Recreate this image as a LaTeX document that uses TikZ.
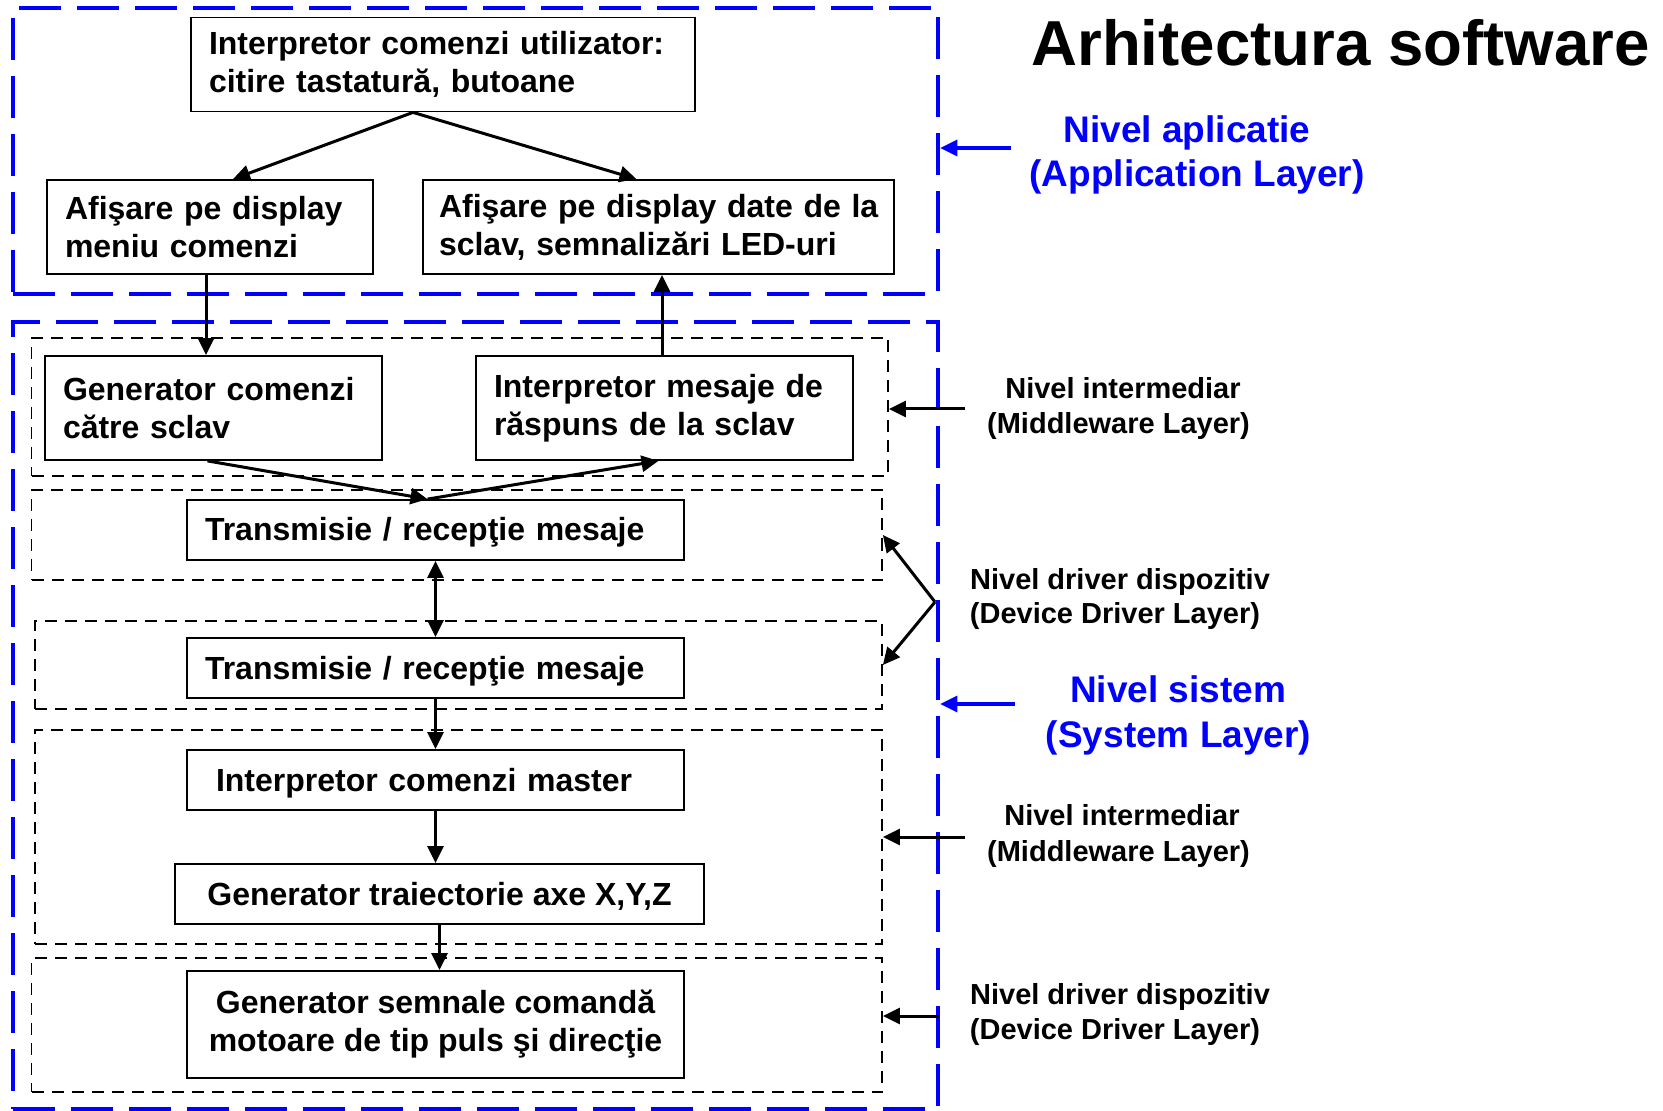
\documentclass[tikz,border=0pt]{standalone}
\usepackage{fontspec}
\setmainfont{Liberation Sans}
\usetikzlibrary{arrows.meta,calc}
\begin{document}
\begin{tikzpicture}[x=0.5pt,y=-0.5pt,
  layerbox/.style={draw=blue, line width=2.25pt, dash pattern=on 21pt off 8pt, inner sep=0pt},
  groupbox/.style={draw=black, line width=0.9pt, dash pattern=on 6pt off 4pt, inner sep=0pt},
  block/.style={draw=black, line width=0.9pt, inner xsep=9pt, inner ysep=0pt,
    font=\fontsize{16}{19}\selectfont\bfseries, align=left},
  oneline/.style={text height=14.5pt, text depth=3.5pt},
  flow/.style={line width=1.5pt, -{Triangle[length=8.5pt,width=8pt]}},
  flowboth/.style={line width=1.5pt, {Triangle[length=8.5pt,width=8pt]}-{Triangle[length=8.5pt,width=8pt]}},
  bluearrow/.style={draw=blue, line width=1.6pt, -{Triangle[length=8.5pt,width=8pt]}},
  sidelbl/.style={font=\fontsize{14.5}{18}\selectfont\bfseries, inner sep=0pt, anchor=base},
  bluelbl/.style={font=\fontsize{18.5}{22}\selectfont\bfseries, text=blue, inner sep=0pt, anchor=base},
]
\useasboundingbox (0,0) rectangle (1663,1111);

% layer frames
\node[layerbox, minimum width=462.5pt, minimum height=143pt] (A) at (475.5,151) {};
\node[layerbox, minimum width=462.5pt, minimum height=393.5pt] (S) at (475.5,715.5) {};

% sub-layer groups
\node[groupbox, minimum width=428.25pt, minimum height=69pt] (D1) at (459.75,407) {};
\node[groupbox, minimum width=425.25pt, minimum height=45pt] (D2) at (456.75,535) {};
\node[groupbox, minimum width=423.5pt, minimum height=44pt] (D3) at (458.5,665) {};
\node[groupbox, minimum width=423.5pt, minimum height=107pt] (D4) at (458.5,837) {};
\node[groupbox, minimum width=425.25pt, minimum height=67pt] (D5) at (456.75,1025) {};

% blocks
\node[block, minimum width=252pt, minimum height=47pt, text width=234pt] (top) at (443,64.5)
  {Interpretor comenzi utilizator:\\citire tastatură, butoane};
\node[block, minimum width=163pt, minimum height=47pt, text width=145pt] (L) at (210,227)
  {Afişare pe display\\meniu comenzi};
\node[block, minimum width=235.5pt, minimum height=47pt, inner xsep=8pt, text width=219.5pt] (R) at (658.5,227)
  {\mbox{Afişare pe display date de la}\\\mbox{sclav, semnalizări LED-uri}};
\node[block, minimum width=168.5pt, minimum height=52pt, text width=150.5pt] (Gen) at (213.5,408)
  {Generator comenzi\\către sclav};
\node[block, minimum width=188.5pt, minimum height=52pt, text width=170.5pt] (IntMes) at (664.5,408)
  {Interpretor mesaje de\\răspuns de la sclav};
\node[block, oneline, minimum width=248.5pt, minimum height=30pt, text width=230.5pt] (T1) at (435.5,530)
  {Transmisie / recepţie mesaje};
\node[block, oneline, minimum width=248.5pt, minimum height=30pt, text width=230.5pt] (T2) at (435.5,668)
  {Transmisie / recepţie mesaje};
\node[block, oneline, minimum width=248.5pt, minimum height=30pt, inner xsep=14.5pt, text width=219.5pt] (ICM) at (435.5,780)
  {Interpretor comenzi master};
\node[block, oneline, minimum width=264.5pt, minimum height=30pt, align=center] (GT) at (439.5,894)
  {Generator traiectorie axe X,Y,Z};
\node[block, minimum width=248.5pt, minimum height=53.5pt, align=center] (GS) at (435.5,1024.5)
  {Generator semnale comandă\\motoare de tip puls şi direcţie};

% data flow
\draw[flow] ([xshift=-15pt]top.south) -- ([xshift=11.5pt]L.north);
\draw[flow] ([xshift=-15pt]top.south) -- ([xshift=-11pt]R.north);
\draw[flow] ([xshift=-2pt]L.south) -- ([xshift=-2pt]L.south |- Gen.north);
\draw[flow] ([xshift=-1.25pt]IntMes.north) -- ([xshift=-1.25pt]IntMes.north |- R.south);
\coordinate (mx) at ([xshift=-4pt]T1.north);
\draw[flow] ([xshift=-3pt]Gen.south) -- (mx);
\draw[flow] (mx) -- ([xshift=-3pt]IntMes.south);
\draw[flowboth] (T1.south) -- (T2.north);
\draw[flow] (T2.south) -- (ICM.north);
\draw[flow] (ICM.south) -- (ICM.south |- GT.north);
\draw[flow] (GT.south) -- (GT.south |- GS.north);

% title
\node[font=\fontsize{31.8}{38}\selectfont\bfseries, anchor=base west, inner sep=0pt] (title) at (1031,66) {Arhitectura software};

% application layer
\coordinate (apparr) at (1011,148);
\draw[bluearrow] (apparr) -- (apparr -| A.east);
\node[bluelbl] (app1) at (1187,143) {Nivel aplicatie};
\node[bluelbl] (app2) at (1197,187) {(Application Layer)};

% middleware (upper)
\coordinate (mw1) at (965,409);
\draw[flow] (mw1) -- (mw1 -| D1.east);
\node[sidelbl] (mwa1) at (1123,399) {Nivel intermediar};
\node[sidelbl] (mwa2) at (1118.5,434) {(Middleware Layer)};

% device driver (communication)
\coordinate (dd) at (935,602);
\draw[flow] (dd) -- (D2.east);
\draw[flow] (dd) -- (D3.east);
\node[sidelbl] (dda1) at (1120,589) {Nivel driver dispozitiv};
\node[sidelbl] (dda2) at (1115,623) {(Device Driver Layer)};

% system layer
\coordinate (sysarr) at (1015,704);
\draw[bluearrow] (sysarr) -- (sysarr -| S.east);
\node[bluelbl] (sys1) at (1178,702) {Nivel sistem};
\node[bluelbl] (sys2) at (1178.5,747) {(System Layer)};

% middleware (lower)
\coordinate (mw2) at (965,837);
\draw[flow] (mw2) -- (mw2 -| D4.east);
\node[sidelbl] (mwb1) at (1122,825) {Nivel intermediar};
\node[sidelbl] (mwb2) at (1118.5,861) {(Middleware Layer)};

% device driver (motors)
\coordinate (dd2) at (939,1016);
\draw[flow] (dd2) -- (dd2 -| D5.east);
\node[sidelbl] (ddb1) at (1120,1004) {Nivel driver dispozitiv};
\node[sidelbl] (ddb2) at (1115,1039) {(Device Driver Layer)};
\end{tikzpicture}
\end{document}
